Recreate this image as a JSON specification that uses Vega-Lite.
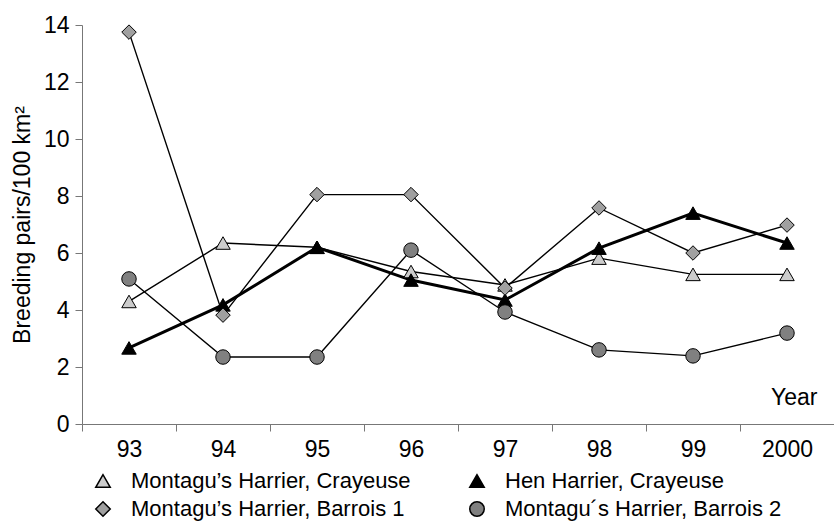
{
  "$schema": "https://vega.github.io/schema/vega-lite/v6.json",
  "width": 752,
  "height": 399,
  "autosize": {"type": "none"},
  "padding": {"left": 82, "top": 25, "right": 0, "bottom": 101},
  "background": "white",
  "config": {"view": {"stroke": null}, "font": "Liberation Sans"},
  "data": {
    "values": [
      {"year": "93", "series": "Montagu’s Harrier, Crayeuse", "value": 4.3},
      {"year": "94", "series": "Montagu’s Harrier, Crayeuse", "value": 6.35},
      {"year": "95", "series": "Montagu’s Harrier, Crayeuse", "value": 6.2},
      {"year": "96", "series": "Montagu’s Harrier, Crayeuse", "value": 5.35},
      {"year": "97", "series": "Montagu’s Harrier, Crayeuse", "value": 4.88},
      {"year": "98", "series": "Montagu’s Harrier, Crayeuse", "value": 5.82},
      {"year": "99", "series": "Montagu’s Harrier, Crayeuse", "value": 5.25},
      {"year": "2000", "series": "Montagu’s Harrier, Crayeuse", "value": 5.25},
      {"year": "93", "series": "Hen Harrier, Crayeuse", "value": 2.67},
      {"year": "94", "series": "Hen Harrier, Crayeuse", "value": 4.18},
      {"year": "95", "series": "Hen Harrier, Crayeuse", "value": 6.2},
      {"year": "96", "series": "Hen Harrier, Crayeuse", "value": 5.05},
      {"year": "97", "series": "Hen Harrier, Crayeuse", "value": 4.35},
      {"year": "98", "series": "Hen Harrier, Crayeuse", "value": 6.17},
      {"year": "99", "series": "Hen Harrier, Crayeuse", "value": 7.4},
      {"year": "2000", "series": "Hen Harrier, Crayeuse", "value": 6.35},
      {"year": "93", "series": "Montagu’s Harrier, Barrois 1", "value": 13.75},
      {"year": "94", "series": "Montagu’s Harrier, Barrois 1", "value": 3.82},
      {"year": "95", "series": "Montagu’s Harrier, Barrois 1", "value": 8.05},
      {"year": "96", "series": "Montagu’s Harrier, Barrois 1", "value": 8.05},
      {"year": "97", "series": "Montagu’s Harrier, Barrois 1", "value": 4.77},
      {"year": "98", "series": "Montagu’s Harrier, Barrois 1", "value": 7.58},
      {"year": "99", "series": "Montagu’s Harrier, Barrois 1", "value": 6.0},
      {"year": "2000", "series": "Montagu’s Harrier, Barrois 1", "value": 6.98},
      {"year": "93", "series": "Montagu´s Harrier, Barrois 2", "value": 5.09},
      {"year": "94", "series": "Montagu´s Harrier, Barrois 2", "value": 2.35},
      {"year": "95", "series": "Montagu´s Harrier, Barrois 2", "value": 2.35},
      {"year": "96", "series": "Montagu´s Harrier, Barrois 2", "value": 6.1},
      {"year": "97", "series": "Montagu´s Harrier, Barrois 2", "value": 3.93},
      {"year": "98", "series": "Montagu´s Harrier, Barrois 2", "value": 2.6},
      {"year": "99", "series": "Montagu´s Harrier, Barrois 2", "value": 2.39},
      {"year": "2000", "series": "Montagu´s Harrier, Barrois 2", "value": 3.19}
    ]
  },
  "encoding": {
    "x": {
      "field": "year",
      "type": "ordinal",
      "sort": ["93", "94", "95", "96", "97", "98", "99", "2000"],
      "scale": {"type": "band", "paddingInner": 0, "paddingOuter": 0},
      "bandPosition": 0.5,
      "axis": {
        "title": "Year",
        "titleAnchor": "end",
        "titleAlign": "right",
        "titleBaseline": "alphabetic",
        "titleX": 735,
        "titleY": -20,
        "titleFontSize": 23,
        "titleFontWeight": "normal",
        "titleColor": "black",
        "labelAngle": 0,
        "labelFontSize": 23,
        "labelColor": "black",
        "labelPadding": 7,
        "tickBand": "extent",
        "tickSize": 7,
        "tickColor": "#777777",
        "domainColor": "#777777",
        "grid": false
      }
    },
    "y": {
      "field": "value",
      "type": "quantitative",
      "scale": {"domain": [0, 14], "nice": false},
      "axis": {
        "title": "Breeding pairs/100 km²",
        "titleFontSize": 23,
        "titleFontWeight": "normal",
        "titleColor": "black",
        "titlePadding": 9,
        "values": [0, 2, 4, 6, 8, 10, 12, 14],
        "labelFontSize": 23,
        "labelColor": "black",
        "labelPadding": 6,
        "tickSize": 7,
        "tickColor": "#777777",
        "domainColor": "#777777",
        "grid": false
      }
    }
  },
  "layer": [
    {
      "transform": [{"filter": "datum.series !== 'Hen Harrier, Crayeuse'"}],
      "mark": {"type": "line", "color": "black", "strokeWidth": 1.4},
      "encoding": {"detail": {"field": "series", "type": "nominal"}}
    },
    {
      "transform": [{"filter": "datum.series === 'Hen Harrier, Crayeuse'"}],
      "mark": {"type": "line", "color": "black", "strokeWidth": 3},
      "encoding": {"detail": {"field": "series", "type": "nominal"}}
    },
    {
      "mark": {"type": "point", "filled": true, "stroke": "black", "strokeWidth": 1, "opacity": 1},
      "encoding": {
        "shape": {
          "field": "series",
          "type": "nominal",
          "scale": {
            "domain": ["Montagu’s Harrier, Crayeuse", "Hen Harrier, Crayeuse", "Montagu’s Harrier, Barrois 1", "Montagu´s Harrier, Barrois 2"],
            "range": ["triangle-up", "triangle-up", "diamond", "circle"]
          },
          "legend": {
            "title": null,
            "orient": "none",
            "legendX": 10,
            "legendY": 445,
            "columns": 2,
            "direction": "horizontal",
            "padding": 0,
            "labelFontSize": 22,
            "labelColor": "black",
            "labelLimit": 400,
            "labelOffset": 17,
            "columnPadding": 55,
            "rowPadding": 6
          }
        },
        "fill": {
          "field": "series",
          "type": "nominal",
          "scale": {
            "domain": ["Montagu’s Harrier, Crayeuse", "Hen Harrier, Crayeuse", "Montagu’s Harrier, Barrois 1", "Montagu´s Harrier, Barrois 2"],
            "range": ["#cccccc", "#000000", "#a0a0a0", "#808080"]
          },
          "legend": {
            "title": null,
            "orient": "none",
            "legendX": 10,
            "legendY": 445,
            "columns": 2,
            "direction": "horizontal",
            "padding": 0,
            "labelFontSize": 22,
            "labelColor": "black",
            "labelLimit": 400,
            "labelOffset": 17,
            "columnPadding": 55,
            "rowPadding": 6
          }
        },
        "size": {
          "field": "series",
          "type": "nominal",
          "scale": {
            "domain": ["Montagu’s Harrier, Crayeuse", "Hen Harrier, Crayeuse", "Montagu’s Harrier, Barrois 1", "Montagu´s Harrier, Barrois 2"],
            "range": [210, 210, 190, 180]
          },
          "legend": {
            "title": null,
            "orient": "none",
            "legendX": 10,
            "legendY": 445,
            "columns": 2,
            "direction": "horizontal",
            "padding": 0,
            "labelFontSize": 22,
            "labelColor": "black",
            "labelLimit": 400,
            "labelOffset": 17,
            "columnPadding": 55,
            "rowPadding": 6
          }
        }
      }
    }
  ]
}
